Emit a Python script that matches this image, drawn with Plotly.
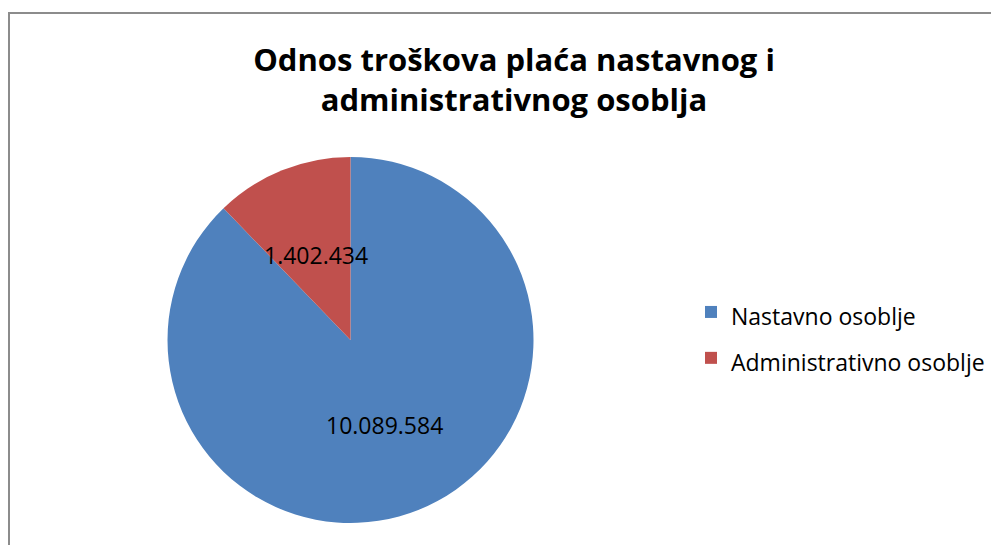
import math
import plotly.graph_objects as go

# data
LABELS = ["Nastavno osoblje", "Administrativno osoblje"]
VALUES = [10089584, 1402434]
COLORS = ["#4f81bd", "#c0504d"]
TITLE = "Odnos troškova plaća nastavnog i<br>administrativnog osoblja"

# the page body has an 8px margin, so the figure is drawn 8px smaller
W, H = 991, 537
# pie placement in figure pixels (centre + radius)
CX, CY, R = 342.5, 332, 183


def fmt(v):
    return f"{v:,}".replace(",", ".")


fig = go.Figure()
fig.add_pie(
    labels=[f"<span style='font-size:23px'>{l}</span>" for l in LABELS],
    values=VALUES, sort=False, direction="clockwise", rotation=0,
    marker=dict(colors=COLORS, line=dict(width=0)),
    textinfo="none", hoverinfo="label+value",
    domain=dict(x=[(CX - R) / W, (CX + R) / W], y=[1 - (CY + R) / H, 1 - (CY - R) / H]),
)

# value labels at the middle angle of each slice, half the radius out
total = sum(VALUES)
start = 0.0
annotations = []
for v in VALUES:
    frac = v / total
    ang = 2 * math.pi * (start + frac / 2)  # clockwise from 12 o'clock
    px = CX + 0.5 * R * math.sin(ang)
    py = CY - 0.5 * R * math.cos(ang)
    annotations.append(dict(
        x=px / W, y=1 - py / H, xref="paper", yref="paper", text=fmt(v),
        xanchor="center", yanchor="middle", showarrow=False,
        font=dict(size=23, color="#000000", family="Open Sans"),
    ))
    start += frac

fig.update_layout(
    width=W, height=H,
    margin=dict(l=0, r=0, t=0, b=0),
    paper_bgcolor="white",
    font=dict(family="Open Sans", color="#000000"),
    title=dict(text=TITLE, x=506 / W, xanchor="center", y=1 - 63 / H, yanchor="middle",
               font=dict(size=31, family="Open Sans", weight="bold", color="#000000")),
    legend=dict(x=683 / W, y=1 - 276 / H, xanchor="left", yanchor="top",
                font=dict(size=33, color="#000000")),
    annotations=annotations,
    shapes=[dict(type="path", xref="paper", yref="paper",
                 path=f"M {1 / W},0 L {1 / W},{1 - 5 / H} L 1,{1 - 5 / H}",
                 line=dict(color="#8c8c8c", width=2))],
)

fig.write_html("out.html")
